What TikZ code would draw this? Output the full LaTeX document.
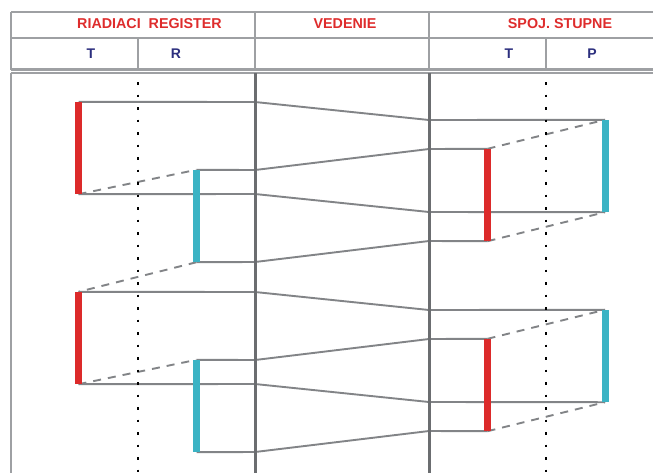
\documentclass[tikz,border=0pt]{standalone}
\usepackage{fontspec}
\setmainfont{Liberation Sans}
\usetikzlibrary{backgrounds}
\definecolor{hred}{HTML}{DE2C2C}
\definecolor{barred}{HTML}{DC2A2A}
\definecolor{barcyan}{HTML}{3BB3C4}
\definecolor{navy}{HTML}{2C2F7E}
\definecolor{sigray}{HTML}{828487}
\definecolor{vgray}{HTML}{6B6D70}
\definecolor{grid}{HTML}{9EA0A3}
\tikzset{
  gridline/.style={draw=grid, line width=2.2pt},
  vline/.style={draw=vgray, line width=3pt},
  dotline/.style={draw=black, line width=2.8pt, dash pattern=on 2.8pt off 9.7pt},
  sig/.style={draw=sigray, line width=1.9pt},
  sigdash/.style={draw=sigray, line width=1.9pt, dash pattern=on 8pt off 7pt},
  htext/.style={font=\bfseries\fontsize{14.3}{16}\selectfont, text=hred, inner sep=0pt},
  stext/.style={font=\bfseries\fontsize{14}{16}\selectfont, text=navy, inner sep=0pt},
  redbar/.style={fill=barred, minimum width=7pt, minimum height=92pt, inner sep=0pt, draw=none},
  cyanbar/.style={fill=barcyan, minimum width=7pt, minimum height=92pt, inner sep=0pt, draw=none},
}
\begin{document}
\begin{tikzpicture}[x=1pt,y=-1pt]
\useasboundingbox (0,0) rectangle (653,472);
% header grid
\draw[gridline] (11,12) -- (660,12);
\draw[gridline] (11,38) -- (660,38);
\draw[gridline] (11,69.5) -- (660,69.5);
\draw[gridline] (11,73) -- (660,73);
\draw[gridline] (11,12) -- (11,69.5);
\draw[gridline] (11,73) -- (11,480);
\draw[gridline] (255,12) -- (255,69.5);
\draw[gridline] (429,12) -- (429,69.5);
\draw[gridline] (138,38) -- (138,69.5);
\draw[gridline] (546,38) -- (546,69.5);
% header text
\node[htext] (h1) at (149.5,24) {RIADIACI\ \ REGISTER};
\node[htext] (h2) at (345,24) {VEDENIE};
\node[htext] (h3) at (560,24) {SPOJ. STUPNE};
\node[stext] (t1) at (91,53.5) {T};
\node[stext] (r1t) at (176,53.5) {R};
\node[stext] (t2) at (509,53.5) {T};
\node[stext] (p2) at (592,53.5) {P};
% dotted and main vertical lines
\draw[dotline] (138,82) -- (138,475);
\draw[dotline] (546,82) -- (546,475);
\draw[vline] (255,73) -- (255,475);
\draw[vline] (429,73) -- (429,475);
% bars group 1
\node[redbar] (rl1) at (78.5,148) {};
\node[cyanbar] (cl1) at (196.5,216) {};
\node[redbar] (rr1) at (487.5,195) {};
\node[cyanbar] (cr1) at (605,166) {};
% bars group 2
\node[redbar] (rl2) at (78.5,338) {};
\node[cyanbar] (cl2) at (196.5,406) {};
\node[redbar] (rr2) at (487.5,385) {};
\node[cyanbar] (cr2) at (605,356) {};
% junctions
\coordinate (a1) at (255,102); \coordinate (b1) at (429,120);
\coordinate (a2) at (255,194); \coordinate (b2) at (429,212);
\coordinate (a3) at (255,170); \coordinate (b3) at (429,149);
\coordinate (a4) at (255,262); \coordinate (b4) at (429,241);
\coordinate (a5) at (255,292); \coordinate (b5) at (429,310);
\coordinate (a6) at (255,384); \coordinate (b6) at (429,402);
\coordinate (a7) at (255,360); \coordinate (b7) at (429,339);
\coordinate (a8) at (255,452); \coordinate (b8) at (429,431);
\begin{scope}[on background layer]
\draw[sig] (rl1.north) -- (a1) -- (b1) -- (cr1.north);
\draw[sig] (rl1.south) -- (a2) -- (b2) -- (cr1.south);
\draw[sig] (cl1.north) -- (a3) -- (b3) -- (rr1.north);
\draw[sig] (cl1.south) -- (a4) -- (b4) -- (rr1.south);
\draw[sig] (rl2.north) -- (a5) -- (b5) -- (cr2.north);
\draw[sig] (rl2.south) -- (a6) -- (b6) -- (cr2.south);
\draw[sig] (cl2.north) -- (a7) -- (b7) -- (rr2.north);
\draw[sig] (cl2.south) -- (a8) -- (b8) -- (rr2.south);
\draw[sigdash] (rl1.south) -- (cl1.north);
\draw[sigdash] (cl1.south) -- (rl2.north);
\draw[sigdash] (rl2.south) -- (cl2.north);
\draw[sigdash] (rr1.north) -- (cr1.north);
\draw[sigdash] (rr1.south) -- (cr1.south);
\draw[sigdash] (rr2.north) -- (cr2.north);
\draw[sigdash] (rr2.south) -- (cr2.south);
\end{scope}
\end{tikzpicture}
\end{document}
